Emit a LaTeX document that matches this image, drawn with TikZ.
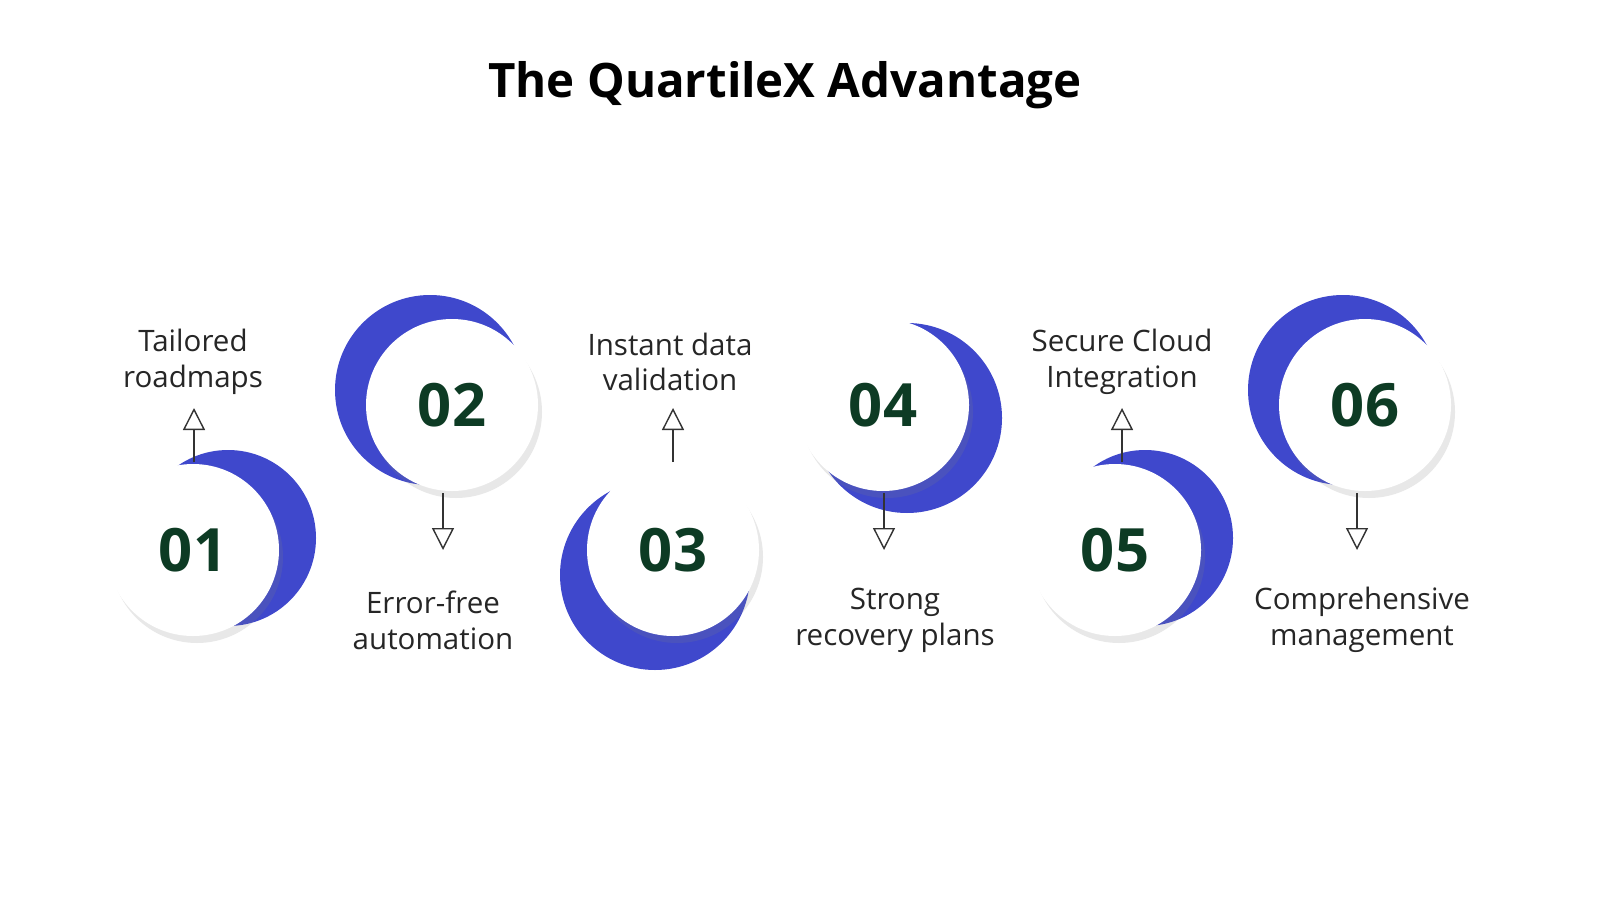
\documentclass[tikz,border=0pt]{standalone}
\usepackage{fontspec}
\setmainfont{Open Sans}
\usetikzlibrary{arrows.meta,shadows,positioning}
\definecolor{crescent}{HTML}{3F48CC}
\definecolor{numgreen}{HTML}{0D3B24}
\tikzset{%
  disc/.style={circle, fill=white, minimum size=1.72cm, inner sep=0pt,
    font=\fontsize{17}{17}\selectfont\bfseries, text=numgreen,
    drop shadow={opacity=0.18, shadow xshift=0.4mm, shadow yshift=-0.7mm}},
  moon/.style={fill=crescent},
  caption/.style={align=center, font=\fontsize{8.4}{10.2}\selectfont, text=black!85},
  pointer/.style={-{Triangle[open,length=2.2mm,width=2.2mm]}, black!80, thin}
}
\begin{document}
\begin{tikzpicture}
\useasboundingbox (0,0) rectangle (16,9);
\node[font=\fontsize{13.5}{16}\selectfont\bfseries] (title) at (7.85,8.15) {The QuartileX Advantage};

% crescents behind
\fill[moon] (2.28,3.62) circle (0.88cm);
\fill[moon] (4.30,5.10) circle (0.95cm);
\fill[moon] (6.55,3.25) circle (0.95cm);
\fill[moon] (9.07,4.82) circle (0.95cm);
\fill[moon] (11.45,3.62) circle (0.88cm);
\fill[moon] (13.43,5.10) circle (0.95cm);

% discs
\node[disc] (d1) at (1.93,3.50) {01};
\node[disc] (d2) at (4.52,4.95) {02};
\node[disc] (d3) at (6.73,3.50) {03};
\node[disc] (d4) at (8.83,4.95) {04};
\node[disc] (d5) at (11.15,3.50) {05};
\node[disc] (d6) at (13.65,4.95) {06};

% captions
\node[caption] (t1) at (1.93,5.38) {Tailored\\roadmaps};
\node[caption] (t2) at (4.33,2.80) {Error-free\\automation};
\node[caption] (t3) at (6.70,5.38) {Instant data\\validation};
\node[caption] (t4) at (8.95,2.80) {Strong\\recovery plans};
\node[caption] (t5) at (11.22,5.38) {Secure Cloud\\Integration};
\node[caption] (t6) at (13.62,2.80) {Comprehensive\\management};

% pointers
\coordinate (p1) at (1.94,4.38); \coordinate (q1) at (1.94,4.92);
\coordinate (p2) at (4.43,4.07); \coordinate (q2) at (4.43,3.50);
\coordinate (p3) at (6.73,4.38); \coordinate (q3) at (6.73,4.92);
\coordinate (p4) at (8.84,4.07); \coordinate (q4) at (8.84,3.50);
\coordinate (p5) at (11.22,4.38); \coordinate (q5) at (11.22,4.92);
\coordinate (p6) at (13.57,4.07); \coordinate (q6) at (13.57,3.50);
\foreach \i in {1,...,6}
  \draw[pointer] (p\i) -- (q\i);
\end{tikzpicture}
\end{document}
